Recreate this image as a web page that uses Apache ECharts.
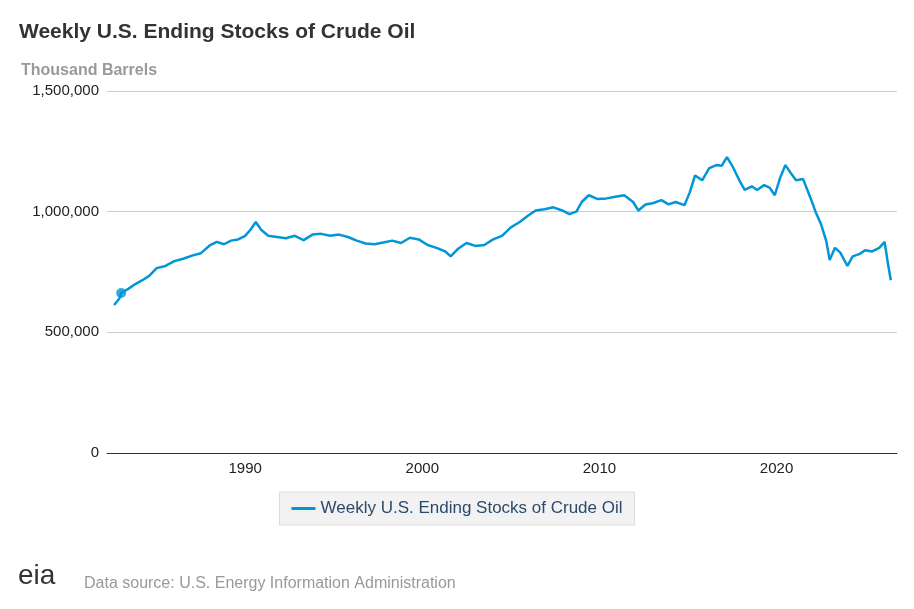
<!DOCTYPE html>
<html lang="en">
<head>
    <meta charset="UTF-8">
    <title>Weekly U.S. Ending Stocks of Crude Oil</title>
    <script src="https://cdn.jsdelivr.net/npm/echarts@6/dist/echarts.min.js"></script>
    <style>
        body { margin: 0; background: #fff; font-family: 'Liberation Sans', Arial, sans-serif; }
        #main { width: 914px; height: 609px; }
    </style>
</head>
<body>
<div id="main"></div>
<script type="text/javascript">
    var myChart = echarts.init(document.getElementById('main'));

    // [year, thousand barrels]
    var stocks = [
        [1982.6, 613000], [1982.9, 640000], [1983.0, 663000], [1983.4, 680000], [1983.8, 700000],
        [1984.2, 716000], [1984.6, 735000], [1985.0, 766000], [1985.5, 775000], [1986.0, 795000],
        [1986.5, 805000], [1987.0, 818000], [1987.5, 828000], [1988.0, 860000], [1988.4, 875000],
        [1988.8, 865000], [1989.2, 880000], [1989.6, 885000], [1990.0, 900000], [1990.3, 925000],
        [1990.6, 957000], [1990.9, 925000], [1991.3, 900000], [1991.8, 895000], [1992.3, 890000],
        [1992.8, 900000], [1993.3, 882000], [1993.8, 905000], [1994.3, 908000], [1994.8, 900000],
        [1995.3, 905000], [1995.8, 895000], [1996.3, 880000], [1996.8, 868000], [1997.3, 865000],
        [1997.8, 872000], [1998.3, 880000], [1998.8, 870000], [1999.3, 892000], [1999.8, 885000],
        [2000.3, 862000], [2000.8, 850000], [2001.3, 835000], [2001.6, 815000], [2002.0, 845000],
        [2002.5, 870000], [2003.0, 858000], [2003.5, 862000], [2004.0, 885000], [2004.5, 900000],
        [2005.0, 935000], [2005.5, 957000], [2006.0, 985000], [2006.4, 1005000], [2006.9, 1010000],
        [2007.4, 1018000], [2007.9, 1005000], [2008.3, 990000], [2008.7, 1000000], [2009.0, 1040000],
        [2009.4, 1068000], [2009.9, 1052000], [2010.4, 1055000], [2010.9, 1062000], [2011.4, 1068000],
        [2011.9, 1040000], [2012.2, 1005000], [2012.6, 1030000], [2013.0, 1035000], [2013.5, 1048000],
        [2013.9, 1030000], [2014.3, 1040000], [2014.8, 1027000], [2015.1, 1080000], [2015.4, 1150000],
        [2015.8, 1130000], [2016.2, 1180000], [2016.6, 1193000], [2016.9, 1190000], [2017.2, 1226000],
        [2017.5, 1190000], [2017.9, 1130000], [2018.2, 1090000], [2018.6, 1105000], [2018.9, 1090000],
        [2019.3, 1110000], [2019.6, 1100000], [2019.9, 1068000], [2020.2, 1140000], [2020.5, 1193000],
        [2020.8, 1160000], [2021.1, 1130000], [2021.5, 1135000], [2021.9, 1060000], [2022.2, 1000000],
        [2022.5, 950000], [2022.8, 880000], [2023.0, 800000], [2023.3, 850000], [2023.6, 830000],
        [2024.0, 775000], [2024.3, 815000], [2024.7, 825000], [2025.0, 840000], [2025.4, 835000],
        [2025.8, 850000], [2026.1, 875000], [2026.3, 780000], [2026.45, 716000]
    ];

    var option = {
        backgroundColor: '#fff',
        title: [
            { text: 'Weekly U.S. Ending Stocks of Crude Oil', left: 14, top: 17,
              textStyle: { fontSize: 21, fontWeight: 'bold', color: '#333' } },
            { text: 'Thousand Barrels', left: 16, top: 58,
              textStyle: { fontSize: 16, fontWeight: 'bold', color: '#999' } }
        ],
        legend: {
            bottom: 84, left: 'center',
            backgroundColor: '#f2f2f2', borderColor: '#ddd', borderWidth: 1,
            padding: [8, 12], itemWidth: 24, itemHeight: 3,
            icon: 'rect',
            textStyle: { fontSize: 17, color: '#2c4a6b' },
            data: ['Weekly U.S. Ending Stocks of Crude Oil']
        },
        grid: { left: 107, right: 17, top: 91, bottom: 156 },
        xAxis: {
            type: 'value', min: 1982.2, max: 2026.8, interval: 0.1,
            splitLine: { show: false }, axisTick: { show: false },
            axisLine: { lineStyle: { color: '#333' } },
            axisLabel: {
                fontSize: 15, color: '#222', showMinLabel: false, showMaxLabel: false,
                formatter: function (v) {
                    return Math.abs(v - Math.round(v / 10) * 10) < 0.01 ? Math.round(v) : '';
                }
            }
        },
        yAxis: {
            type: 'value', min: 0, max: 1500000, interval: 500000,
            axisLine: { show: false }, axisTick: { show: false },
            splitLine: { lineStyle: { color: '#ccc' } },
            axisLabel: { fontSize: 15, color: '#222', formatter: function (v) { return v.toLocaleString('en-US'); } }
        },
        series: [
            {
                name: 'Weekly U.S. Ending Stocks of Crude Oil',
                type: 'line', data: stocks, showSymbol: false,
                lineStyle: { color: '#0096d7', width: 2.5 }, itemStyle: { color: '#0096d7' }
            },
            {
                type: 'scatter', data: [[1983.0, 663000]], symbolSize: 10,
                itemStyle: { color: '#0096d7' }
            }
        ],
        graphic: [
            { type: 'text', left: 18, top: 562, style: { text: 'eia', fontSize: 28, fill: '#333' } },
            { type: 'text', left: 84, top: 576, style: { text: 'Data source: U.S. Energy Information Administration', fontSize: 16, fill: '#999' } }
        ]
    };
    myChart.setOption(option);
</script>
</body>
</html>
